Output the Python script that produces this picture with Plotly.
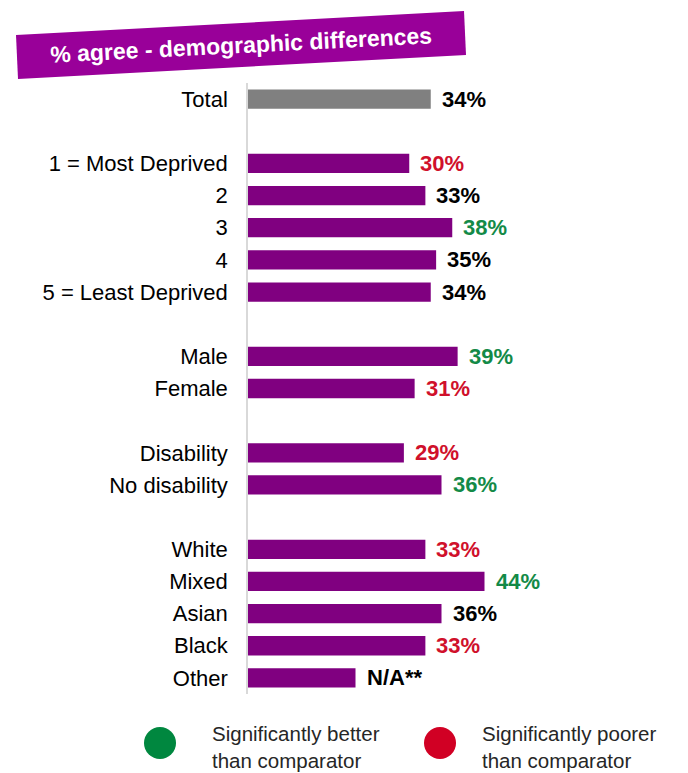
import plotly.graph_objects as go

categories = ["Total", " ", "1 = Most Deprived", "2", "3", "4", "5 = Least Deprived", "  ",
              "Male", "Female", "   ", "Disability", "No disability", "    ",
              "White", "Mixed", "Asian", "Black", "Other"]
values = [34, None, 30, 33, 38, 35, 34, None, 39, 31, None, 29, 36, None, 33, 44, 36, 33, 20]
labels = ["34%", "", "30%", "33%", "38%", "35%", "34%", "", "39%", "31%", "", "29%", "36%", "",
          "33%", "44%", "36%", "33%", "N/A**"]
# significance: 0 = none, 1 = better, -1 = poorer
signif = [0, 0, -1, 0, 1, 0, 0, 0, 1, -1, 0, -1, 1, 0, -1, 1, 0, -1, 0]

PURPLE = "#800080"
GREY = "#808080"
GREEN = "#138A47"
RED = "#D0102B"
sig_col = {0: "#000000", 1: GREEN, -1: RED}

W, H = 688, 773
ML, MR, MT, MB = 248, 10, 83, 79
PW, PH = W - ML - MR, H - MT - MB

def px(x):
    return (x - ML) / PW

def py(y):
    return (H - MB - y) / PH

bar_colors = [GREY if c == "Total" else PURPLE for c in categories]

fig = go.Figure()
fig.add_trace(go.Bar(
    x=values, y=categories, orientation="h",
    marker=dict(color=bar_colors, line=dict(width=0)),
    width=0.6, hoverinfo="skip"))

for i, (v, t, s) in enumerate(zip(values, labels, signif)):
    if v is None:
        continue
    fig.add_annotation(x=v, y=i, text="<b>" + t + "</b>", showarrow=False,
                       xanchor="left", xshift=9,
                       font=dict(size=22, color=sig_col[s], family="Liberation Sans"))

# title banner (tilted)
path = "M {} {} L {} {} L {} {} L {} {} Z".format(
    px(16), py(35), px(464), py(11), px(466), py(55), px(18), py(79))
fig.add_shape(type="path", path=path, xref="paper", yref="paper",
              fillcolor="#990099", line=dict(width=0), layer="above")
fig.add_annotation(x=px(241), y=py(45), xref="paper", yref="paper",
                   text="<b>% agree - demographic differences</b>", showarrow=False,
                   textangle=-2.9, xanchor="center", yanchor="middle",
                   font=dict(size=23, color="white", family="Liberation Sans"))

# legend
legend_items = [(160, "#00873F", "Significantly better<br>than comparator", 210),
                (440, "#D10024", "Significantly poorer<br>than comparator", 480)]
for cx, col, txt, tx in legend_items:
    r = 16
    fig.add_shape(type="circle", xref="paper", yref="paper",
                  x0=px(cx - r), x1=px(cx + r), y0=py(743 + r), y1=py(743 - r),
                  fillcolor=col, line=dict(width=0))
    fig.add_annotation(x=px(tx), y=py(747), xref="paper", yref="paper", text=txt,
                       showarrow=False, xanchor="left", yanchor="middle", align="left",
                       font=dict(size=20.5, color="#262626", family="Liberation Sans"))

fig.update_layout(
    width=W, height=H, margin=dict(l=ML, r=MR, t=MT, b=MB),
    paper_bgcolor="white", plot_bgcolor="white", showlegend=False,
    xaxis=dict(range=[0, 80], visible=False, fixedrange=True),
    yaxis=dict(autorange="reversed", showline=True, linecolor="#D9D9D9", linewidth=1.5,
               showgrid=False, zeroline=False, ticks="", ticklabelstandoff=14,
               tickfont=dict(size=22, color="#000000", family="Liberation Sans"),
               categoryorder="array", categoryarray=categories),
    font=dict(family="Liberation Sans"),
)

fig.write_html("out.html")
